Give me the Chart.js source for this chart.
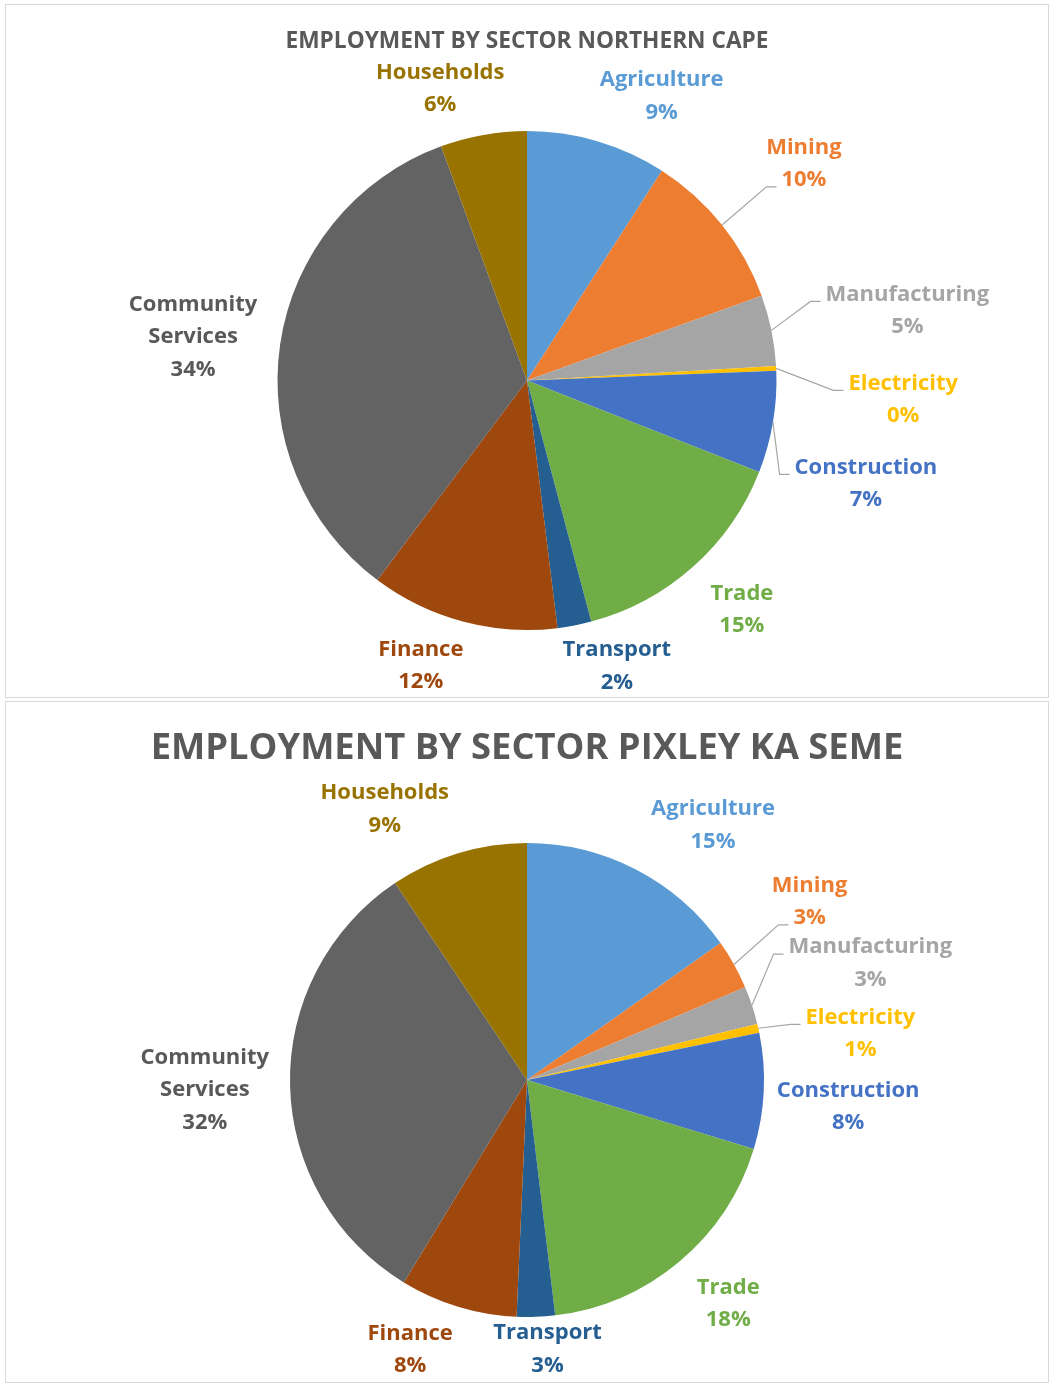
<!DOCTYPE html>
<html>
<head>
<meta charset="utf-8">
<script src="https://cdn.jsdelivr.net/npm/chart.js@4.4.1/dist/chart.umd.min.js"></script>
<style>
  body { margin: 0; background: #fff; }
  .box { position: absolute; left: 5px; width: 1042px; border: 1px solid #d9d9d9; background: #fff; }
  #box1 { top: 4px; height: 692px; }
  #box2 { top: 701px; height: 680px; }
</style>
</head>
<body>
<div class="box" id="box1"><canvas id="pie_nc" width="1042" height="692"></canvas></div>
<div class="box" id="box2"><canvas id="pie_pks" width="1042" height="680"></canvas></div>
<script>
var sectors = ["Agriculture", "Mining", "Manufacturing", "Electricity", "Construction",
               "Trade", "Transport", "Finance", "Community Services", "Households"];
var northernCape = [9.1, 10.4, 4.6, 0.3, 6.6, 14.9, 2.2, 12.2, 34.2, 5.6];
var pixleyKaSeme = [15.2, 3.4, 2.6, 0.6, 7.9, 18.4, 2.6, 8.0, 31.9, 9.4];

var colors = ["#5B9BD5", "#ED7D31", "#A5A5A5", "#FFC000", "#4472C4",
              "#70AD47", "#255E91", "#9E480E", "#636363", "#997300"];
var labelColors = ["#5B9BD5", "#ED7D31", "#A5A5A5", "#FFC000", "#4472C4",
                   "#70AD47", "#255E91", "#9E480E", "#595959", "#997300"];

// label placement: [angle shift deg, distance / radius, leader line (0 none, 1 name, 2 pct)]
var placeNC = [[9, 1.26, 0], [0.5, 1.41, 2], [1.2, 1.55, 1], [5.7, 1.51, 1], [7.3, 1.42, 1],
               [-1.4, 1.26, 0], [-6.5, 1.2, 0], [5.5, 1.22, 0], [-0.9, 1.35, 0], [-6.5, 1.22, 0]];
var placePKS = [[8.8, 1.33, 0], [-3.1, 1.41, 2], [-0.4, 1.53, 1], [4.7, 1.42, 1], [2.1, 1.36, 0],
                [-2, 1.27, 0], [-2.2, 1.14, 0], [6.5, 1.24, 0], [-0.5, 1.36, 0], [-10.8, 1.29, 0]];

var FONT = "'Open Sans', Lato, sans-serif";

var pieLabels = {
    id: 'pieLabels',
    afterDatasetsDraw: function(chart, args, opts) {
        var ctx = chart.ctx;
        var data = chart.data.datasets[0].data;
        var total = data.reduce(function(a, b) { return a + b; }, 0);
        var arcs = chart.getDatasetMeta(0).data;
        ctx.save();
        ctx.font = 'bold ' + opts.size + 'px ' + FONT;
        ctx.textAlign = 'center';
        ctx.textBaseline = 'middle';
        arcs.forEach(function(arc, i) {
            var p = arc.getProps(['x', 'y', 'startAngle', 'endAngle', 'outerRadius'], true);
            var mid = (p.startAngle + p.endAngle) / 2;
            var pl = opts.place[i];
            var a = mid + pl[0] * Math.PI / 180;
            var lx = p.x + Math.cos(a) * p.outerRadius * pl[1];
            var ly = p.y + Math.sin(a) * p.outerRadius * pl[1];
            var name = chart.data.labels[i];
            var pct = Math.round(data[i] / total * 100) + '%';
            var lines = name === 'Community Services' ? ['Community', 'Services', pct] : [name, pct];
            var gap = opts.gap;
            var y0 = ly - (lines.length - 1) * gap / 2;

            if (pl[2]) {
                var li = pl[2] === 1 ? 0 : lines.length - 1;
                var w = ctx.measureText(lines[li]).width;
                var ex = lx - w / 2 - 5;
                var ey = y0 + li * gap + 7;
                var sx = p.x + Math.cos(mid) * p.outerRadius;
                var sy = p.y + Math.sin(mid) * p.outerRadius;
                ctx.strokeStyle = '#A6A6A6';
                ctx.lineWidth = 1.2;
                ctx.beginPath();
                ctx.moveTo(sx, sy);
                ctx.lineTo(Math.max(sx, ex - 10), ey);
                ctx.lineTo(ex, ey);
                ctx.stroke();
            }

            ctx.fillStyle = labelColors[i];
            lines.forEach(function(t, k) {
                ctx.fillText(t, lx, y0 + k * gap);
            });
        });
        ctx.restore();
    }
};

function makePie(id, values, title, titleSize, pad, place) {
    var ctx = document.getElementById(id).getContext('2d');
    return new Chart(ctx, {
        type: 'pie',
        data: {
            labels: sectors,
            datasets: [{
                data: values,
                backgroundColor: colors,
                borderWidth: 0
            }]
        },
        options: {
            responsive: false,
            animation: false,
            layout: { padding: { top: 0, bottom: pad[2], left: 0, right: 0 } },
            plugins: {
                legend: { display: false },
                tooltip: { enabled: false },
                title: {
                    display: true,
                    text: title,
                    color: '#595959',
                    font: { family: FONT, size: titleSize, weight: 'bold', lineHeight: 1.2 },
                    padding: { top: pad[0], bottom: pad[1] }
                },
                pieLabels: { place: place, size: 22, gap: 32.5 }
            }
        },
        plugins: [pieLabels]
    });
}

makePie('pie_nc', northernCape, 'EMPLOYMENT BY SECTOR NORTHERN CAPE', 22.7, [23.4, 75.4, 67], placeNC);
makePie('pie_pks', pixleyKaSeme, 'EMPLOYMENT BY SECTOR PIXLEY KA SEME', 36.3, [25.2, 72.2, 65], placePKS);
</script>
</body>
</html>
